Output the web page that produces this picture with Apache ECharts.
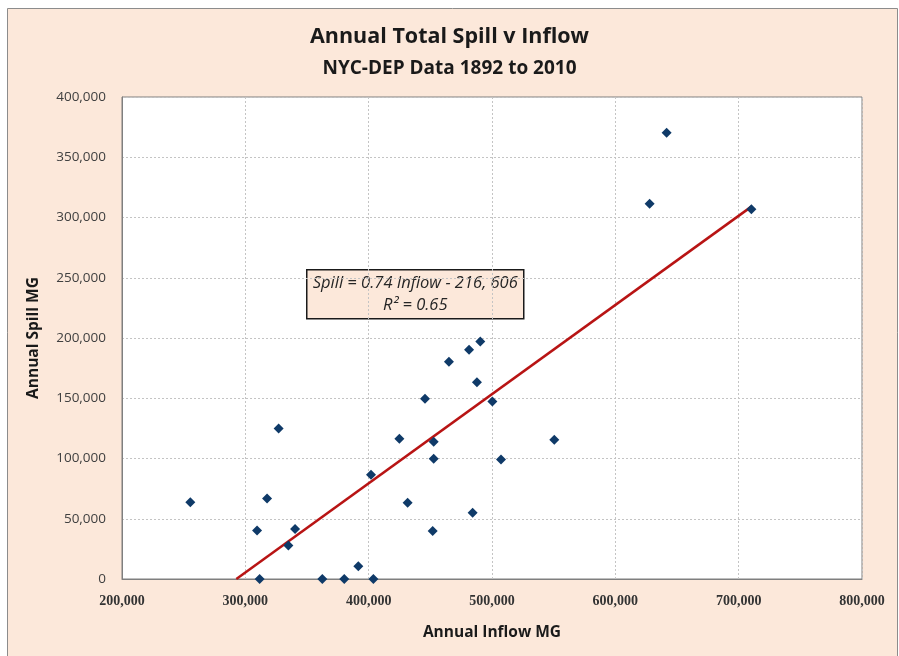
<!DOCTYPE html>
<html>
<head>
<meta charset="utf-8">
<script src="https://cdn.jsdelivr.net/npm/echarts@6/dist/echarts.min.js"></script>
<style>
html,body{margin:0;padding:0;background:#fff;}
#chart{width:899px;height:656px;}
</style>
</head>
<body>
<div id="chart"></div>
<script>
// Data
var inflow = [255400, 309500, 311600, 317600, 327000, 334900, 340300, 362400, 380200, 391600,
              401900, 403800, 424900, 431600, 445700, 451900, 452700, 452700, 465100, 481400,
              487800, 484300, 490500, 500300, 507300, 550500, 627800, 641600, 710300];
var spill  = [63600, 40300, 0, 66900, 125000, 27800, 41500, 0, 0, 10500,
              86600, 0, 116300, 63200, 149600, 39800, 113800, 99700, 180300, 190200,
              163200, 55000, 197100, 147300, 99200, 115600, 311500, 370400, 306900];
var slope = 0.74;
var intercept = -216606;
var rSquared = 0.65;
var xTicks = [200000, 300000, 400000, 500000, 600000, 700000, 800000];
var yTicks = [0, 50000, 100000, 150000, 200000, 250000, 300000, 350000, 400000];

var points = inflow.map(function (v, i) { return [v, spill[i]]; });
var xStart = -intercept / slope;
var xEnd = Math.max.apply(null, inflow);
var trend = [[xStart, 0], [xEnd, slope * xEnd + intercept]];

function fmt(v) { return v === 0 ? '0' : v.toLocaleString('en-US'); }

var chart = echarts.init(document.getElementById('chart'), null, {renderer: 'canvas'});
chart.setOption({
  animation: false,
  backgroundColor: '#ffffff',
  graphic: [
    { type: 'rect', z: -10, shape: { x: 7.5, y: 8.5, width: 890, height: 660 },
      style: { fill: '#FCE8DA', stroke: '#8c8c8c', lineWidth: 1 } },
    { type: 'group', left: 306, top: 269, z: 100, children: [
      { type: 'rect', shape: { x: 0, y: 0, width: 217, height: 49 },
        style: { fill: '#FCE8DA', stroke: '#1a1a1a', lineWidth: 1.5 } },
      { type: 'text', style: { x: 108.5, y: 14, text: 'Spill = ' + slope.toFixed(2) + ' Inflow - 216, 606',
        font: 'italic 16.5px "Open Sans"', fill: '#262626', align: 'center', verticalAlign: 'middle' } },
      { type: 'text', style: { x: 108.5, y: 36, text: 'R\u00B2 = ' + rSquared.toFixed(2),
        font: 'italic 16.5px "Open Sans"', fill: '#262626', align: 'center', verticalAlign: 'middle' } }
    ]}
  ],
  title: [
    { text: 'Annual Total Spill v Inflow', left: 'center', top: 21,
      textStyle: { fontFamily: 'Open Sans', fontWeight: 'bold', fontSize: 21.5, color: '#1a1a1a' } },
    { text: 'NYC-DEP Data 1892 to 2010', left: 'center', top: 54,
      textStyle: { fontFamily: 'Open Sans', fontWeight: 'bold', fontSize: 19, color: '#1a1a1a' } }
  ],
  grid: { left: 122, right: 37, top: 97, bottom: 77, containLabel: false,
          show: true, borderColor: '#7f7f7f', borderWidth: 1, backgroundColor: '#ffffff' },
  xAxis: {
    type: 'value', min: xTicks[0], max: xTicks[xTicks.length - 1], interval: 100000,
    name: 'Annual Inflow MG', nameLocation: 'middle', nameGap: 46,
    nameTextStyle: { fontFamily: 'Open Sans', fontWeight: 'bold', fontSize: 15.5, color: '#1a1a1a' },
    axisLine: { show: true, lineStyle: { color: '#7f7f7f' } },
    axisTick: { show: false },
    axisLabel: { formatter: fmt, margin: 15, fontFamily: 'Liberation Serif', fontWeight: 'bold', fontSize: 14, color: '#333' },
    splitLine: { show: true, lineStyle: { color: '#c4c4c4', type: [2, 2], width: 1 } }
  },
  yAxis: {
    type: 'value', min: yTicks[0], max: yTicks[yTicks.length - 1], interval: 50000,
    name: 'Annual Spill MG', nameLocation: 'middle', nameGap: 80, nameRotate: 90,
    nameTextStyle: { fontFamily: 'Open Sans', fontWeight: 'bold', fontSize: 15.5, color: '#1a1a1a' },
    axisLine: { show: true, lineStyle: { color: '#7f7f7f' } },
    axisTick: { show: false },
    axisLabel: { formatter: fmt, margin: 16, fontFamily: 'Open Sans', fontSize: 13.5, color: '#404040' },
    splitLine: { show: true, lineStyle: { color: '#c4c4c4', type: [2, 2], width: 1 } }
  },
  series: [
    { type: 'line', data: trend, symbol: 'none', z: 3,
      lineStyle: { color: '#B81414', width: 2.5 } },
    { type: 'scatter', data: points, symbol: 'diamond', symbolSize: 10, z: 4,
      itemStyle: { color: '#0F3A68', opacity: 1 } }
  ]
});
</script>
</body>
</html>
